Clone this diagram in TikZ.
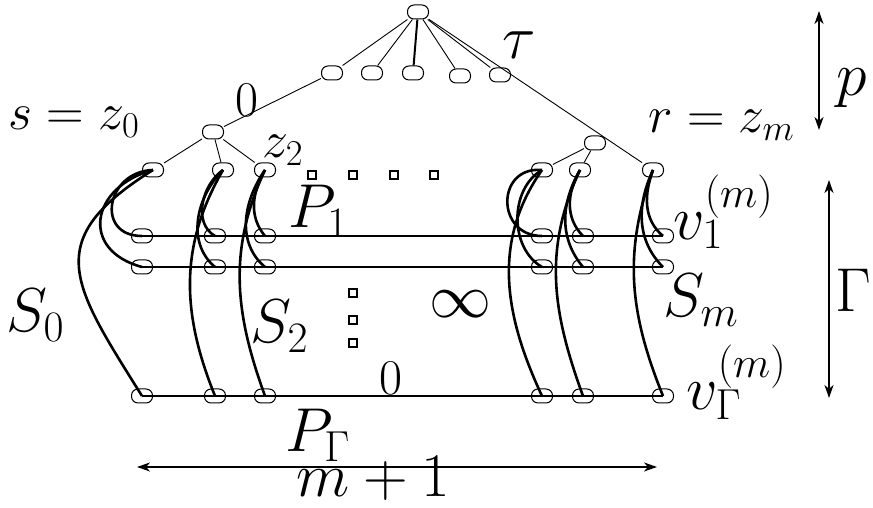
\documentclass[tikz,border=0pt]{standalone}
\usepackage{fix-cm}
\usetikzlibrary{arrows.meta}
\begin{document}
\begin{tikzpicture}[x=1pt,y=1pt,>={Stealth[length=13pt,width=9pt,inset=4pt]}]

% --- Styles ---
\tikzset{
    vx/.style={
        draw, line width=1pt,
        rounded corners=6.5pt,
        minimum width=21pt, minimum height=14pt,
        inner sep=0pt
    },
    sq/.style={draw, line width=1.1pt, minimum size=8pt, inner sep=0pt},
    treeline/.style={line width=0.9pt},
    rowline/.style={line width=2.2pt},
    loopline/.style={line width=2.6pt},
    dimarrow/.style={<->, line width=2pt},
    lbl/.style={inner sep=0pt, font=\fontsize{62}{70}\selectfont},
    midlbl/.style={inner sep=0pt, font=\fontsize{52}{60}\selectfont},
    zerolbl/.style={inner sep=0pt, font=\fontsize{50}{60}\selectfont}
}

\useasboundingbox (0,0) rectangle (873,508);

% --- Tree on top ---
\node[vx] (root) at (418,496) {};
\node[vx] (l1) at (332,435) {};
\node[vx] (l2) at (372,435) {};
\node[vx] (l3) at (413,435) {};
\node[vx] (l4) at (460,432) {};
\node[vx] (l5) at (500,433) {};

\node[vx] (zs) at (213,376) {};
\node[vx] (zr) at (595,365) {};

% top row of the columns
\node[vx] (t1) at (153,338) {};
\node[vx] (t2) at (223,338) {};
\node[vx] (t3) at (265,338) {};
\node[vx] (t4) at (542,338) {};
\node[vx] (t5) at (580,338) {};
\node[vx] (t6) at (653,338) {};

% row P_1
\node[vx] (a1) at (142,272) {};
\node[vx] (a2) at (215,272) {};
\node[vx] (a3) at (265,272) {};
\node[vx] (a4) at (542,272) {};
\node[vx] (a5) at (583,272) {};
\node[vx] (a6) at (663,272) {};

% row 2
\node[vx] (b1) at (142,241) {};
\node[vx] (b2) at (215,241) {};
\node[vx] (b3) at (265,241) {};
\node[vx] (b4) at (542,241) {};
\node[vx] (b5) at (583,241) {};
\node[vx] (b6) at (663,241) {};

% row P_Gamma
\node[vx] (c1) at (142,112) {};
\node[vx] (c2) at (215,112) {};
\node[vx] (c3) at (265,112) {};
\node[vx] (c4) at (542,112) {};
\node[vx] (c5) at (583,112) {};
\node[vx] (c6) at (663,112) {};

% little squares
\node[sq] (h1) at (312,333) {};
\node[sq] (h2) at (353,333) {};
\node[sq] (h3) at (394,333) {};
\node[sq] (h4) at (434,333) {};
\node[sq] (d1) at (353,215) {};
\node[sq] (d2) at (353,188) {};
\node[sq] (d3) at (353,165) {};

% --- Tree edges ---
\draw[treeline] (root) -- (l1) -- (zs) -- (t1);
\draw[treeline] (root) -- (l2);
\draw[treeline, line width=2pt] (root) -- (l3);
\draw[treeline] (root) -- (l4);
\draw[treeline] (root) -- (l5);
\draw[treeline] (root) -- (t6);
\draw[treeline] (zs) -- (t2);
\draw[treeline] (zs) -- (t3);
\draw[treeline] (zr) -- (t4);
\draw[treeline] (zr) -- (t5);

% --- Rows ---
\draw[rowline] (a1.center) -- (a6.center);
\draw[rowline] (b1.center) -- (b6.center);
\draw[rowline] (c1.center) -- (c6.center);

% --- Curves down the columns ---
\draw[loopline] (t1.center) to[out=182, in=180, looseness=1.8] (a1.center);
\draw[loopline] (t1.center) to[out=195, in=165, looseness=1.7] (b1.center);
\draw[loopline] (t1.center) to[out=212, in=122, looseness=1.5] (c1.center);

\draw[loopline] (t2.center) to[out=215, in=150] (a2.center);
\draw[loopline] (t2.center) to[out=225, in=140] (b2.center);
\draw[loopline] (t2.center) to[out=240, in=112] (c2.center);

\draw[loopline] (t3.center) to[out=240, in=130] (a3.center);
\draw[loopline] (t3.center) to[out=235, in=140] (b3.center);
\draw[loopline] (t3.center) to[out=245, in=110] (c3.center);

\draw[loopline] (t4.center) to[out=175, in=180, looseness=1.8] (a4.center);
\draw[loopline] (t4.center) to[out=210, in=150] (b4.center);
\draw[loopline] (t4.center) to[out=235, in=115] (c4.center);

\draw[loopline] (t5.center) to[out=240, in=135] (a5.center);
\draw[loopline] (t5.center) to[out=240, in=130] (b5.center);
\draw[loopline] (t5.center) to[out=245, in=110] (c5.center);

\draw[loopline] (t6.center) to[out=250, in=140] (a6.center);
\draw[loopline] (t6.center) to[out=245, in=135] (b6.center);
\draw[loopline] (t6.center) to[out=250, in=112] (c6.center);

% --- Dimension arrows ---
\coordinate (ptop) at (819,497);
\coordinate (pbot) at (819,378);
\coordinate (gtop) at (829,328);
\coordinate (gbot) at (829,110);
\coordinate (mleft) at (137,41);
\coordinate (mright) at (657,41);
\draw[dimarrow] (ptop) -- (pbot);
\draw[dimarrow] (gtop) -- (gbot);
\draw[dimarrow] (mleft) -- (mright);

% --- Labels ---
\node[lbl] (tau) at (519,463) {$\tau$};
\node[zerolbl] (zerotop) at (247,408) {$0$};
\node[midlbl, anchor=base west] (sz) at (8,378) {$s=z_0$};
\node[midlbl, anchor=base west] (ztwo) at (262,350) {$z_2$};
\node[midlbl, anchor=base west] (rz) at (648,375) {$r=z_m$};
\node[lbl] (plbl) at (852,420) {$p$};
\node[lbl] (glbl) at (853,218) {$\Gamma$};
\node[lbl, anchor=base west] (pone) at (288,280) {$P_1$};
\node[lbl, anchor=base west] (vone) at (673,268) {$v_1^{(m)}$};
\node[lbl, anchor=base west] (szero) at (6,176) {$S_0$};
\node[lbl, anchor=base west] (stwo) at (250,165) {$S_2$};
\node[lbl] (inf) at (460,204) {$\infty$};
\node[lbl, anchor=base west] (sm) at (663,191) {$S_m$};
\node[zerolbl] (zerobot) at (391,130) {$0$};
\node[lbl, anchor=base west] (vg) at (686,98) {$v_\Gamma^{(m)}$};
\node[lbl, anchor=base west] (pg) at (285,56) {$P_\Gamma$};
\node[lbl, anchor=base west] (mone) at (296,11) {$m+1$};

\end{tikzpicture}
\end{document}
